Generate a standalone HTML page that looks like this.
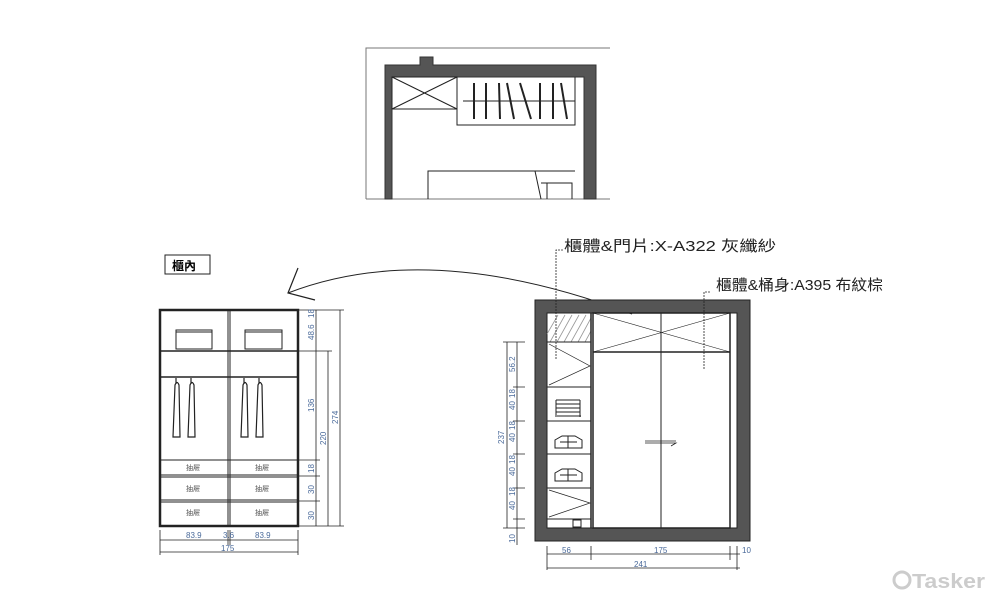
<!DOCTYPE html>
<html><head><meta charset="utf-8"><style>
html,body{margin:0;padding:0;background:#fff;}
svg{display:block;}
text{font-family:"Liberation Sans","Noto Sans CJK TC",sans-serif;}
.d{font-size:8px;fill:#4a6a9a;}
.dd{font-size:7px;fill:#555;}
</style></head><body>
<svg width="1000" height="602" viewBox="0 0 1000 602" xmlns="http://www.w3.org/2000/svg">
<!-- top plan -->
<g stroke="#222" fill="none" stroke-width="1">
<path d="M366 199 V48 H610" stroke="#777"/>
<line x1="366" y1="199" x2="610" y2="199" stroke="#777"/>
<path d="M385 199 V65 H420 V57 H433 V65 H596 V199 H584 V77 H392 V199 Z" fill="#555" stroke="#333"/>
<rect x="392" y="77" width="65" height="32"/>
<line x1="392" y1="77" x2="457" y2="109"/><line x1="392" y1="109" x2="457" y2="77"/>
<path d="M457 77 V125 H575 V77"/>
<line x1="463" y1="101" x2="575" y2="101"/>
<g stroke-width="2">
<line x1="474" y1="83" x2="474" y2="119"/><line x1="486" y1="83" x2="486" y2="119"/>
<line x1="499" y1="83" x2="500" y2="119"/><line x1="507" y1="83" x2="514" y2="119"/>
<line x1="520" y1="83" x2="531" y2="119"/><line x1="540" y1="83" x2="540" y2="119"/>
<line x1="553" y1="83" x2="553" y2="119"/><line x1="561" y1="83" x2="567" y2="119"/>
</g>
<path d="M428 199 V171 H575"/>
<path d="M535 171 L541 199 M541 183 H572 V199 M547 183 V199"/>
</g>
<!-- curve arrow -->
<path d="M288 293 Q430 238 632 314" stroke="#222" fill="none" stroke-width="1"/>
<path d="M298 268 L288 293 L315 300" stroke="#222" fill="none" stroke-width="1.2"/>
<!-- left elevation -->
<rect x="165" y="255" width="45" height="19" fill="none" stroke="#222"/>
<text x="172" y="270" font-size="12" font-weight="bold">櫃內</text>
<g stroke="#222" fill="none">
<rect x="160" y="310" width="138" height="216" stroke-width="2.5"/>
<line x1="228" y1="310" x2="228" y2="526"/><line x1="230" y1="310" x2="230" y2="526"/>
<line x1="160" y1="351" x2="298" y2="351" stroke-width="1.5"/>
<rect x="176" y="330" width="36" height="19"/><line x1="176" y1="332" x2="212" y2="332"/>
<rect x="245" y="330" width="37" height="19"/><line x1="245" y1="332" x2="282" y2="332"/>
<line x1="161" y1="377" x2="297" y2="377" stroke-width="1.5"/>
<g stroke-width="1.2">
<path d="M175 385 L173 437 H180 L179 385 Q177 380 175 385 Z M176 378 V384"/>
<path d="M190 385 L188 437 H195 L194 385 Q192 380 190 385 Z M191 378 V384"/>
<path d="M243 385 L241 437 H248 L247 385 Q245 380 243 385 Z M244 378 V384"/>
<path d="M258 385 L256 437 H263 L262 385 Q260 380 258 385 Z M259 378 V384"/>
</g>
<line x1="160" y1="460" x2="298" y2="460"/>
<line x1="160" y1="475" x2="298" y2="475"/><line x1="160" y1="477" x2="298" y2="477"/>
<line x1="160" y1="500" x2="298" y2="500"/><line x1="160" y1="502" x2="298" y2="502"/>
<!-- dims -->
<line x1="316" y1="310" x2="316" y2="526" stroke-width="0.8"/>
<line x1="328" y1="351" x2="328" y2="526" stroke-width="0.8"/>
<line x1="340" y1="310" x2="340" y2="526" stroke-width="0.8"/>
<path d="M298 310 H344 M298 351 H332 M298 460 H320 M298 476 H320 M298 501 H320 M298 526 H344" stroke-width="0.8"/>
<path d="M160 530 V555 M298 530 V555 M228 530 V545 M230 530 V545 M160 540 H298 M160 552 H298" stroke-width="0.8"/>
</g>
<g class="d">
<text transform="translate(314,318) rotate(-90)">18</text>
<text transform="translate(314,340) rotate(-90)">48.6</text>
<text transform="translate(314,412) rotate(-90)">136</text>
<text transform="translate(314,473) rotate(-90)">18</text>
<text transform="translate(314,494) rotate(-90)">30</text>
<text transform="translate(314,520) rotate(-90)">30</text>
<text transform="translate(326,445) rotate(-90)">220</text>
<text transform="translate(338,424) rotate(-90)">274</text>
<text x="186" y="538">83.9</text><text x="255" y="538">83.9</text><text x="223" y="538">3.6</text>
<text x="221" y="551">175</text>
</g>
<g class="dd">
<text x="186" y="470">抽屜</text><text x="255" y="470">抽屜</text>
<text x="186" y="491">抽屜</text><text x="255" y="491">抽屜</text>
<text x="186" y="515">抽屜</text><text x="255" y="515">抽屜</text>
</g>
<!-- right elevation -->
<g stroke="#222" fill="none">
<path d="M535 300 H750 V541 H535 Z M547 313 V528 H737 V313 Z" fill="#555" fill-rule="evenodd"/>
<rect x="547" y="313" width="44" height="29" fill="#fff"/>
<g stroke="#999" stroke-width="0.8">
<path d="M550 342 L565 315 M557 342 L572 315 M564 342 L579 315 M571 342 L586 315 M578 342 L591 318 M585 342 L591 331 M547 334 L558 315"/>
</g>
<line x1="591" y1="313" x2="591" y2="528" stroke-width="1.5"/>
<line x1="547" y1="342" x2="591" y2="342"/>
<line x1="547" y1="387" x2="591" y2="387"/>
<line x1="547" y1="421" x2="591" y2="421"/>
<line x1="547" y1="454" x2="591" y2="454"/>
<line x1="547" y1="488" x2="591" y2="488"/>
<line x1="547" y1="519" x2="591" y2="519"/>
<path d="M549 344 L590 366 L549 385 M549 490 L590 503 L549 517" stroke-width="0.7"/>
<rect x="573" y="520" width="8" height="7"/>
<rect x="593" y="313" width="137" height="215" stroke-width="1.5"/>
<line x1="593" y1="352" x2="730" y2="352" stroke-width="1.5"/>
<path d="M593 313 L730 352 M593 352 L730 313" stroke-width="0.6"/>
<line x1="661" y1="313" x2="661" y2="528"/>
<path d="M645 441 H676 M645 443 H676 L671 446" stroke-width="0.8"/>
<g stroke-width="1">
<path d="M556 400 H580 M556 404 H580 M556 408 H580 M556 412 H580 M557 416 H581 M556 400 V417 M580 400 V417"/>
<path d="M555 448 V440 L562 436 H575 L582 440 V448 Z M568 436 V448 M560 442 H577"/>
<path d="M555 481 V473 L562 469 H575 L582 473 V481 Z M568 469 V481 M560 475 H577"/>
</g>
<!-- dims right -->
<path d="M507 342 V528 M517 342 V528 M503 342 H525 M513 387 H525 M513 421 H525 M513 454 H525 M513 488 H525 M503 528 H525 M513 519 H525 M517 528 V545" stroke-width="0.8"/>
<path d="M547 546 V570 M591 546 V560 M730 546 V560 M737 546 V570 M547 554 H740 M547 568 H740" stroke-width="0.8"/>
</g>
<g class="d">
<text transform="translate(515,372) rotate(-90)">56.2</text>
<text transform="translate(515,398) rotate(-90)">18</text>
<text transform="translate(515,410) rotate(-90)">40</text>
<text transform="translate(515,430) rotate(-90)">18</text>
<text transform="translate(515,442) rotate(-90)">40</text>
<text transform="translate(515,464) rotate(-90)">18</text>
<text transform="translate(515,476) rotate(-90)">40</text>
<text transform="translate(515,496) rotate(-90)">18</text>
<text transform="translate(515,510) rotate(-90)">40</text>
<text transform="translate(504,444) rotate(-90)">237</text>
<text transform="translate(515,543) rotate(-90)">10</text>
<text x="562" y="553">56</text><text x="654" y="553">175</text><text x="742" y="553">10</text>
<text x="634" y="567">241</text>
</g>
<!-- labels -->
<path d="M563 250 H556 V360 M710 292 H704 V370" stroke="#222" fill="none" stroke-width="0.8" stroke-dasharray="2,1"/>
<text x="564" y="251" font-size="15" fill="#222" textLength="212" lengthAdjust="spacingAndGlyphs">櫃體&amp;門片:X-A322 灰纖紗</text>
<text x="716" y="290" font-size="15" fill="#222" textLength="167" lengthAdjust="spacingAndGlyphs">櫃體&amp;桶身:A395 布紋棕</text>
<!-- watermark -->
<circle cx="902" cy="580" r="8" fill="none" stroke="#ccc" stroke-width="3"/>
<text x="912" y="588" font-size="20" font-weight="bold" fill="#ccc" textLength="73" lengthAdjust="spacingAndGlyphs">Tasker</text>
</svg>
</body></html>
